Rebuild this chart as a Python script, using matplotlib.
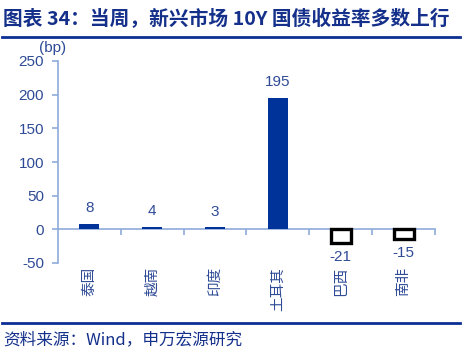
import matplotlib
matplotlib.use("Agg")
import matplotlib.pyplot as plt
from matplotlib.lines import Line2D

categories = ["泰国", "越南", "印度", "土耳其", "巴西", "南非"]
values = [8, 4, 3, 195, -21, -15]
yticks = [-50, 0, 50, 100, 150, 200, 250]

plt.rcParams['font.family'] = ['Liberation Sans', 'Noto Sans CJK SC', 'DejaVu Sans']
cjk = ['Noto Sans CJK SC', 'DejaVu Sans']

W, H = 462, 354
fig = plt.figure(figsize=(W / 100, H / 100), dpi=100)

axis_col = '#8FAADC'
text_col = '#2F4B96'
bar_col = '#003399'
title_col = '#14308A'

ax = fig.add_axes([58 / W, 1 - 263 / H, (435 - 58) / W, (263 - 61) / H])
x = list(range(len(categories)))
for xi, v in zip(x, values):
    if v >= 0:
        ax.bar(xi, v, width=0.32, color=bar_col, zorder=3)
        ax.text(xi, v + 13, f"{v}", ha='center', va='bottom', fontsize=11, color=text_col)
    else:
        ax.bar(xi, v, width=0.32, facecolor='white', edgecolor='black', linewidth=2.4, zorder=3)
        ax.text(xi, v - 10, f"{v}", ha='center', va='top', fontsize=11, color=text_col)

ax.set_xlim(-0.5, len(categories) - 0.5)
ax.set_ylim(-50, 250)
ax.set_yticks(yticks)
ax.set_yticklabels([str(t) for t in yticks], fontsize=11, color=text_col)

for s in ['top', 'right']:
    ax.spines[s].set_visible(False)
ax.spines['left'].set_color(axis_col)
ax.spines['left'].set_linewidth(1.2)
ax.spines['bottom'].set_position(('data', 0))
ax.spines['bottom'].set_color(axis_col)
ax.spines['bottom'].set_linewidth(1.2)
ax.set_xticks([i + 0.5 for i in x])
ax.set_xticklabels([])
ax.tick_params(axis='x', direction='out', length=4, color=axis_col, width=1.2)
ax.tick_params(axis='y', direction='out', length=4, color=axis_col, width=1.2, pad=6)

for xi, c in zip(x, categories):
    ax.text(xi, -56, c, rotation=90, ha='center', va='top', fontsize=10.5,
            color=text_col, family=cjk)

ax.text(-0.015, 1.03, "(bp)", transform=ax.transAxes, ha='center', va='bottom',
        fontsize=11, color=text_col)

fig.text(3 / W, 1 - 19 / H, "图表 34：当周，新兴市场 10Y 国债收益率多数上行",
         ha='left', va='center', fontsize=14.2, fontweight='bold', color=title_col, family=cjk)
fig.add_artist(Line2D([2 / W, 460 / W], [1 - 37 / H, 1 - 37 / H], color='#0B2F94', linewidth=2,
                      transform=fig.transFigure))
fig.add_artist(Line2D([2 / W, 460 / W], [1 - 323 / H, 1 - 323 / H], color='#0B2F94', linewidth=2,
                      transform=fig.transFigure))
fig.text(3 / W, 1 - 340 / H, "资料来源：Wind，申万宏源研究", ha='left', va='center',
         fontsize=12, color=title_col, family=cjk)

fig.savefig("out.png", dpi=100)
